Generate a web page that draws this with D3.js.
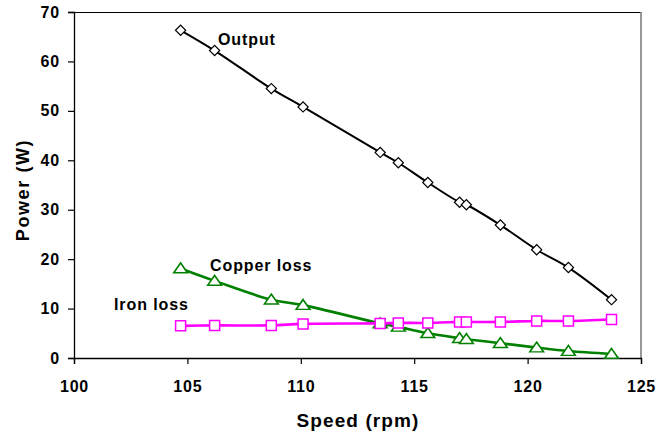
<!DOCTYPE html>
<html>
<head>
<meta charset="utf-8">
<script src="https://cdn.jsdelivr.net/npm/d3@7"></script>
<style>
  body { margin: 0; background: #fff; }
  svg { display: block; font-family: "Liberation Sans", Arial, sans-serif; font-weight: bold; }
</style>
</head>
<body>
<div id="chart"></div>
<script>
// data
var speed = [104.7, 106.2, 108.7, 110.1, 113.5, 114.3, 115.6, 117.0, 117.3, 118.8, 120.4, 121.8, 123.7];
var output = [66.3, 62.2, 54.5, 50.8, 41.6, 39.5, 35.5, 31.5, 31.0, 26.9, 21.9, 18.3, 11.8];
var copperLoss = [18.1, 15.6, 11.8, 10.7, 7.0, 6.3, 5.0, 4.0, 3.8, 3.0, 2.1, 1.4, 0.8];
var ironLoss = [6.5, 6.6, 6.6, 6.9, 7.0, 7.1, 7.1, 7.3, 7.3, 7.3, 7.5, 7.5, 7.8];
var xTicks = [100, 105, 110, 115, 120, 125];
var yTicks = [0, 10, 20, 30, 40, 50, 60, 70];

var width = 658, height = 433;
var m = {left: 74, right: 17, top: 12, bottom: 75};

var svg = d3.select("#chart").append("svg")
    .attr("width", width)
    .attr("height", height);

var x = d3.scaleLinear().domain([100, 125]).range([m.left, width - m.right]);
var y = d3.scaleLinear().domain([0, 70]).range([height - m.bottom, m.top]);

// frame: top black, right grey
svg.append("line")
    .attr("x1", x(100)).attr("x2", x(125))
    .attr("y1", y(70) + 0.5).attr("y2", y(70) + 0.5)
    .attr("stroke", "#000").attr("stroke-width", 1.2);
svg.append("line")
    .attr("x1", x(125)).attr("x2", x(125))
    .attr("y1", y(70)).attr("y2", y(0))
    .attr("stroke", "#7f7f7f").attr("stroke-width", 1.6);

var xAxis = svg.append("g")
    .attr("transform", "translate(0," + y(0) + ")")
    .call(d3.axisBottom(x).tickValues(xTicks).tickSize(6).tickPadding(17));
var yAxis = svg.append("g")
    .attr("transform", "translate(" + x(100) + ",0)")
    .call(d3.axisLeft(y).tickValues(yTicks).tickSize(6).tickPadding(8));

[xAxis, yAxis].forEach(function (g) {
    g.select(".domain").attr("stroke", "#000").attr("stroke-width", 1.3);
    g.selectAll(".tick line").attr("stroke", "#000").attr("stroke-width", 1.2);
    g.selectAll(".tick text")
        .attr("fill", "#000")
        .style("font-family", "'Liberation Sans', Arial, sans-serif")
        .style("font-weight", "bold")
        .style("font-size", "16px")
        .style("letter-spacing", "0.8px");
});

// series
var series = [
    {name: "Output", values: output, color: "#000", width: 2, marker: "diamond"},
    {name: "Copper loss", values: copperLoss, color: "#008000", width: 2.6, marker: "triangle"},
    {name: "Iron loss", values: ironLoss, color: "#ff00ff", width: 2.6, marker: "square"}
];

var line = d3.line()
    .x(function (d) { return x(d[0]); })
    .y(function (d) { return y(d[1]); })
    .curve(d3.curveCatmullRom.alpha(0.5));

var symbols = {
    diamond: d3.symbol().type(d3.symbolSquare).size(52),
    triangle: d3.symbol().type(d3.symbolTriangle).size(62),
    square: d3.symbol().type(d3.symbolSquare).size(100)
};

series.forEach(function (s) {
    var pts = speed.map(function (v, i) { return [v, s.values[i]]; });
    svg.append("path")
        .datum(pts)
        .attr("fill", "none")
        .attr("stroke", s.color)
        .attr("stroke-width", s.width)
        .attr("d", line);
});

// markers on top of lines
series.forEach(function (s) {
    var pts = speed.map(function (v, i) { return [v, s.values[i]]; });
    svg.append("g").selectAll("path")
        .data(pts)
        .enter().append("path")
        .attr("d", symbols[s.marker])
        .attr("transform", function (d) {
            var t = "translate(" + x(d[0]) + "," + y(d[1]) + ")";
            if (s.marker == "diamond") t += " rotate(45)";
            if (s.marker == "triangle") t += " translate(0,1) scale(1.15,0.95)";
            return t;
        })
        .attr("fill", "#fff")
        .attr("stroke", s.color)
        .attr("stroke-width", s.marker == "diamond" ? 1.2 : 1.5);
});

// series labels
var labels = [
    {text: "Output", x: 218, y: 45},
    {text: "Copper loss", x: 210, y: 271},
    {text: "Iron loss", x: 114, y: 310}
];
svg.append("g").selectAll("text")
    .data(labels)
    .enter().append("text")
    .attr("x", function (d) { return d.x; })
    .attr("y", function (d) { return d.y; })
    .style("font-size", "16px")
    .style("letter-spacing", "0.9px")
    .attr("fill", "#000")
    .text(function (d) { return d.text; });

// axis titles
svg.append("text")
    .attr("x", 358).attr("y", 427)
    .attr("text-anchor", "middle")
    .style("font-size", "19px")
    .style("letter-spacing", "1.1px")
    .text("Speed (rpm)");

svg.append("text")
    .attr("transform", "translate(29,190) rotate(-90)")
    .attr("text-anchor", "middle")
    .style("font-size", "18px")
    .style("letter-spacing", "1.6px")
    .text("Power (W)");
</script>
</body>
</html>
